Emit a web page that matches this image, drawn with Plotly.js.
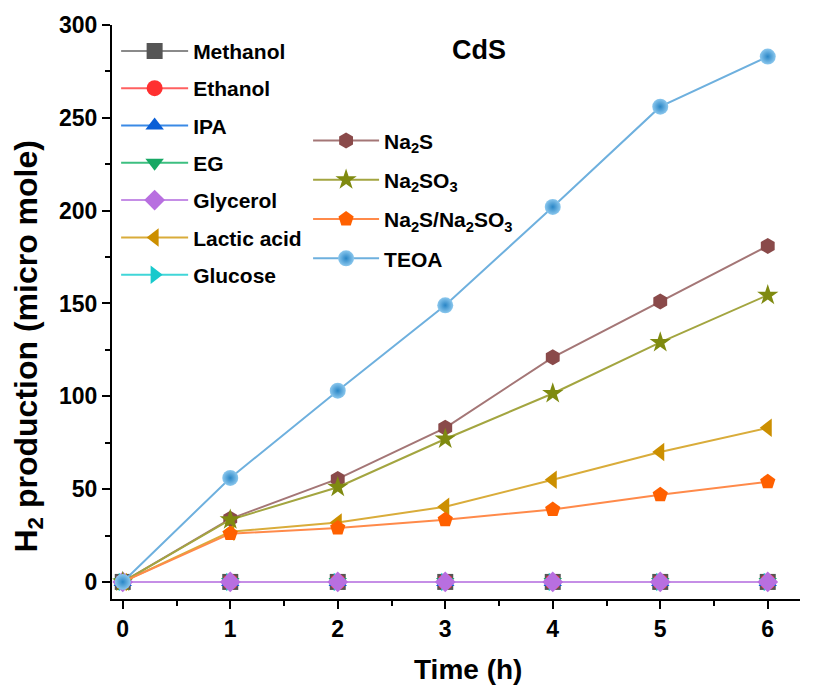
<!DOCTYPE html>
<html>
<head>
<meta charset="utf-8">
<script src="https://cdn.plot.ly/plotly-3.0.1.min.js"></script>
<style>body{margin:0;background:#fff}#chart{width:814px;height:688px}</style>
</head>
<body>
<div id="chart"></div>
<script>
var time = [0, 1, 2, 3, 4, 5, 6];
var methanol = [0, 0, 0, 0, 0, 0, 0];
var ethanol = [0, 0, 0, 0, 0, 0, 0];
var ipa = [0, 0, 0, 0, 0, 0, 0];
var eg = [0, 0, 0, 0, 0, 0, 0];
var glycerol = [0, 0, 0, 0, 0, 0, 0];
var lacticAcid = [0, 27, 32, 40.5, 55, 70, 83];
var glucose = [0, 0, 0, 0, 0, 0, 0];
var na2s = [0, 34, 55.5, 83, 121, 151, 181];
var na2so3 = [0, 33.5, 51, 77, 101.5, 129, 154.5];
var na2sNa2so3 = [0, 26, 29, 33.5, 39, 47, 54];
var teoa = [0, 56, 103, 149, 202, 256, 283];

var names = ['Methanol','Ethanol','IPA','EG','Glycerol','Lactic acid','Glucose',
  'Na<sub>2</sub>S','Na<sub>2</sub>SO<sub>3</sub>','Na<sub>2</sub>S/Na<sub>2</sub>SO<sub>3</sub>','TEOA'];
var xTicks = [0, 1, 2, 3, 4, 5, 6];
var yTicks = [0, 50, 100, 150, 200, 250, 300];
var xTitle = 'Time (h)';
var yTitle = 'H<sub>2</sub> production (micro mole)';
var panelTitle = 'CdS';

function tr(name, y, sym, mcol, lcol, legend, rank, extra) {
  var t = {
    x: time, y: y, name: name, type: 'scatter', mode: 'lines+markers',
    line: {color: lcol, width: 2},
    marker: {symbol: sym, color: mcol, size: 16, line: {width: 0}},
    legend: legend, legendgroup: name, legendrank: rank
  };
  if (extra) { for (var k in extra) t.marker[k] = extra[k]; }
  return t;
}

var data = [
  tr(names[0], methanol, 'square', '#555555', '#8a8a8a', 'legend', 1),
  tr(names[1], ethanol, 'circle', '#ff3030', '#ff6060', 'legend', 2),
  tr(names[2], ipa, 'triangle-up', '#0a5fd6', '#3a8ae6', 'legend', 3),
  tr(names[3], eg, 'triangle-down', '#17a864', '#3cbf80', 'legend', 4),
  tr(names[5], lacticAcid, 'triangle-left', '#cc8f00', '#d9ac3a', 'legend', 6),
  tr(names[6], glucose, 'triangle-right', '#18c9cc', '#40d6d8', 'legend', 7),
  tr(names[4], glycerol, 'diamond', '#b86fe0', '#c58ee6', 'legend', 5),
  tr(names[7], na2s, 'hexagon', '#8a4a4a', '#a47676', 'legend2', 8),
  tr(names[8], na2so3, 'star', '#7f8a10', '#a3a540', 'legend2', 9),
  tr(names[9], na2sNa2so3, 'pentagon', '#ff6000', '#ff8a4a', 'legend2', 10),
  tr(names[10], teoa, 'circle', '#8cc8ee', '#6eb0de', 'legend2', 11, {gradient: {type: 'radial', color: '#2a86c6'}})
];

var fam = 'Arial, "Liberation Sans", sans-serif';

var layout = {
  width: 814, height: 688,
  margin: {l: 112, r: 14, t: 25, b: 89},
  paper_bgcolor: '#fff', plot_bgcolor: '#fff',
  font: {family: fam, color: '#000'},
  showlegend: true,
  xaxis: {
    range: [-0.1, 6.3], tickvals: xTicks,
    showgrid: false, zeroline: false, showline: true, linecolor: '#000', linewidth: 2,
    ticks: 'outside', ticklen: 8, tickwidth: 2, tickcolor: '#000',
    minor: {dtick: 0.5, tick0: 0, ticks: 'outside', ticklen: 5, tickwidth: 2, tickcolor: '#000', showgrid: false},
    tickfont: {family: fam, size: 23, weight: 'bold', color: '#000'}
  },
  yaxis: {
    range: [-9.2, 300], tickvals: yTicks,
    showgrid: false, zeroline: false, showline: true, linecolor: '#000', linewidth: 2,
    ticks: 'outside', ticklen: 8, tickwidth: 2, tickcolor: '#000',
    minor: {dtick: 25, tick0: 0, ticks: 'outside', ticklen: 5, tickwidth: 2, tickcolor: '#000', showgrid: false},
    tickfont: {family: fam, size: 23, weight: 'bold', color: '#000'}
  },
  legend: {
    x: 0.006, y: 0.99, xanchor: 'left', yanchor: 'top',
    bgcolor: 'rgba(0,0,0,0)', borderwidth: 0,
    itemwidth: 67, tracegroupgap: 7,
    font: {family: fam, size: 21, weight: 'bold', color: '#000'}
  },
  legend2: {
    x: 0.285, y: 0.834, xanchor: 'left', yanchor: 'top',
    bgcolor: 'rgba(0,0,0,0)', borderwidth: 0,
    itemwidth: 66, tracegroupgap: 9,
    font: {family: fam, size: 21, weight: 'bold', color: '#000'}
  },
  annotations: [
    {xref: 'paper', yref: 'paper', x: 0.533, y: 0.956, xanchor: 'center', yanchor: 'middle', showarrow: false,
     text: panelTitle, font: {family: fam, size: 27, weight: 'bold', color: '#000'}},
    {xref: 'paper', yref: 'paper', x: 0.517, y: -0.122, xanchor: 'center', yanchor: 'middle', showarrow: false,
     text: xTitle, font: {family: fam, size: 28, weight: 'bold', color: '#000'}},
    {xref: 'paper', yref: 'paper', x: -0.122, y: 0.44, xanchor: 'center', yanchor: 'middle', showarrow: false,
     textangle: -90, text: yTitle, font: {family: fam, size: 32, weight: 'bold', color: '#000'}}
  ]
};

Plotly.newPlot('chart', data, layout, {displayModeBar: false, staticPlot: true});
</script>
</body>
</html>
